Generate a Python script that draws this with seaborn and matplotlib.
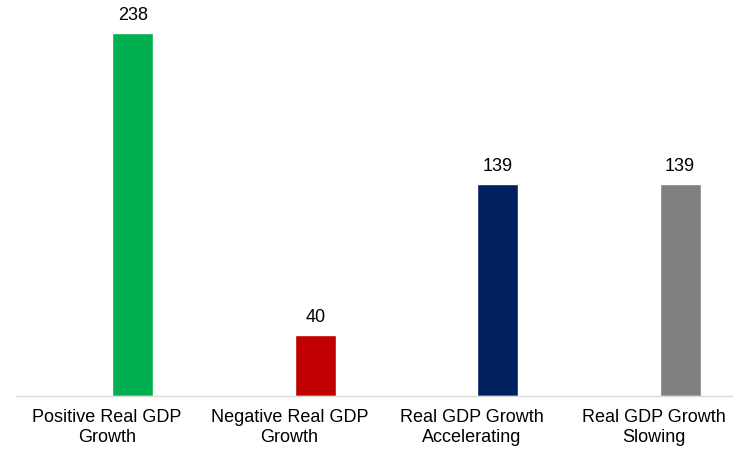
import matplotlib
matplotlib.use("Agg")
import matplotlib.pyplot as plt
import seaborn as sns

categories = ["Positive Real GDP\nGrowth", "Negative Real GDP\nGrowth",
              "Real GDP Growth\nAccelerating", "Real GDP Growth\nSlowing"]
counts = [238, 40, 139, 139]
bar_colors = ["#00B050", "#C00000", "#002060", "#808080"]

sns.set_style("white")
plt.rcParams["font.family"] = ["Liberation Sans", "DejaVu Sans"]

fig = plt.figure(figsize=(7.33, 4.5), dpi=100)
ax = fig.add_axes([16 / 733, 54 / 450, 717 / 733, 395 / 450])

sns.barplot(x=categories, y=counts, hue=categories, palette=bar_colors,
            width=0.225, legend=False, ax=ax, saturation=1)

# value labels above bars
for i, v in enumerate(counts):
    ax.text(i, v + 6, str(v), ha="center", va="bottom", fontsize=13, color="black")

# category labels sit a little left of the bars, as in the original Excel chart
ax.set_xticks([i - 0.142 for i in range(len(categories))])
ax.set_xticklabels(categories, linespacing=1.3)

ax.set_xlim(-0.64, 3.29)
ax.set_ylim(0, 259)
ax.set_yticks([])
ax.tick_params(axis="x", length=0, labelsize=13, pad=9, colors="black")
for s in ["top", "right", "left"]:
    ax.spines[s].set_visible(False)
ax.spines["bottom"].set_color("#D9D9D9")
ax.spines["bottom"].set_linewidth(1.0)

fig.savefig("out.png", dpi=100)
